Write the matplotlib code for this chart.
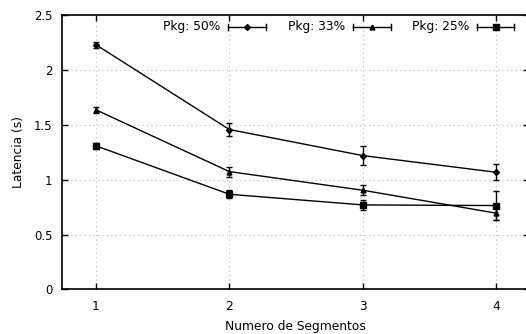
import matplotlib
matplotlib.use("Agg")
import matplotlib.pyplot as plt

segments = [1, 2, 3, 4]
labels = ["Pkg: 50%", "Pkg: 33%", "Pkg: 25%"]
pkg50 = [2.231, 1.458, 1.220, 1.068]
pkg50_err = [0.027, 0.060, 0.087, 0.073]
pkg33 = [1.637, 1.074, 0.904, 0.695]
pkg33_err = [0.030, 0.045, 0.044, 0.065]
pkg25 = [1.309, 0.867, 0.770, 0.764]
pkg25_err = [0.030, 0.038, 0.042, 0.134]
markers = ["D", "^", "s"]
msizes = [3.0, 3.5, 4.0]

FS = 8.8
plt.rcParams['font.family'] = ['DejaVu Sans']
fig = plt.figure(figsize=(5.26, 3.34), dpi=100)
ax = fig.add_axes([62/526, 44.7/334, 466.7/526, 274/334])

series = [pkg50, pkg33, pkg25]
errs = [pkg50_err, pkg33_err, pkg25_err]
for vals, err, m, ms in zip(series, errs, markers, msizes):
    ax.errorbar(segments, vals, yerr=err, color='black', marker=m, ms=ms,
                lw=1.0, elinewidth=1.0, capsize=2.5, capthick=1.0, zorder=3)

ax.set_xlim(0.745, 4.245)
ax.set_ylim(0, 2.5)
ax.set_xticks(segments)
ax.set_yticks([0, 0.5, 1, 1.5, 2, 2.5])
ax.set_yticklabels(["0", "0.5", "1", "1.5", "2", "2.5"])
ax.grid(True, color='#bbbbbb', linestyle=(0, (1, 3)), linewidth=0.8)
ax.tick_params(direction='in', top=True, right=True, labelsize=FS, length=4, width=1)
ax.tick_params(axis='x', pad=8)
ax.tick_params(axis='y', pad=7, labelsize=8.4)
for s in ax.spines.values():
    s.set_linewidth(1.2)
ax.set_xlabel("Numero de Segmentos", fontsize=FS, labelpad=5)
ax.set_ylabel("Latencia (s)", fontsize=FS, labelpad=6)

# legend (gnuplot style: text then sample line with caps)
tr = ax.transAxes
def px(x):
    return (x - 62) / 466.7
ly = 1 - (27 - 15.3) / 274
samples = [(228, 266), (353, 391), (477, 514)]
for lab, m, ms, (x0, x1) in zip(labels, markers, msizes, samples):
    ax.text(px(x0) - 0.017, ly, lab, transform=tr, ha='right', va='center', fontsize=FS)
    ax.plot([px(x0), px(x1)], [ly, ly], transform=tr, color='black', lw=1.0, clip_on=False)
    ax.plot([px((x0 + x1) / 2)], [ly], transform=tr, color='black', marker=m, ms=ms, clip_on=False)
    for xx in (x0, x1):
        ax.plot([px(xx), px(xx)], [ly - 0.012, ly + 0.012], transform=tr, color='black', lw=1.0, clip_on=False)

fig.savefig("out.png", dpi=100)
